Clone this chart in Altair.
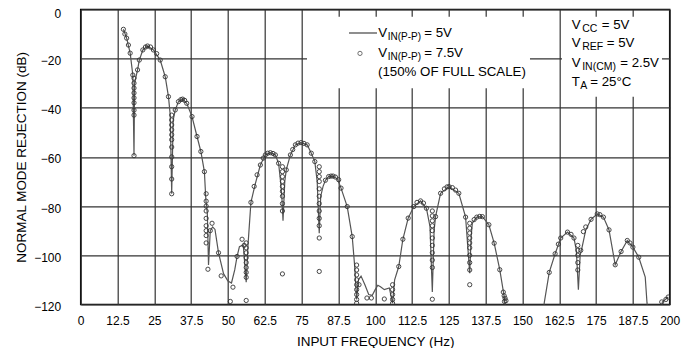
import altair as alt
import pandas as pd

# ---- data: 5V input (line) ----
line_f = [14.5, 15.6, 16.8, 17.7, 18.1, 18.3, 19.3, 19.9, 21.1, 22.7, 24.7, 27.0, 28.7, 29.8, 30.4, 30.9,
          31.4, 32.1, 33.2, 34.6, 36.0, 37.8, 39.5, 40.8, 42.0, 42.5, 43.0, 43.4,
          44.0, 44.8, 45.6, 46.8, 48.5, 50.0, 51.2, 52.3, 53.1, 53.9, 55.2, 56.2,
          56.8, 57.8, 59.2, 61.0, 62.7, 64.4, 66.1, 67.2, 67.8, 68.3, 68.7,
          69.3, 69.8, 71.2, 72.9, 74.8, 76.9, 78.3, 79.5, 80.3, 81.0,
          81.5, 82.3, 83.1, 84.2, 85.7, 87.2, 88.4, 90.5, 92.2, 93.0, 93.7,
          94.3, 95.2, 96.5, 97.8, 99.0, 100.0, 100.9, 101.8, 103.1, 104.8, 105.9,
          106.6, 108.0, 109.4, 111.2, 113.1, 115.4, 117.4, 118.6, 119.4,
          120.0, 120.5, 122.2, 125.1, 128.4, 130.7, 132.1,
          132.6, 133.0, 134.5, 136.4, 138.6, 140.4, 142.3, 143.8, 145.5,
          156.5, 157.4, 159.1, 161.1, 163.0, 165.3, 167.5, 168.3, 169.0,
          169.6, 170.3, 171.5, 173.3, 175.4, 177.5, 179.4, 181.5, 183.5, 185.6, 187.5, 189.5, 191.7, 192.3, 193.5,
          196.5, 197.5, 199.5]
line_db = [-8.1, -11.7, -17.8, -26.7, -59.5, -30, -24.6, -20.6, -16.5, -14.9, -16.5, -20.6, -27.4, -35.5, -42.9, -75,
           -45, -40.9, -37.5, -36.5, -38.2, -43.6, -51.7, -57.8, -66.0, -77.5, -83, -104,
           -90, -88.5, -89.5, -99, -107.5, -110.5, -111.3, -106, -100.5, -96.5, -95.8, -111,
           -96, -78.5, -71.4, -63.3, -59.2, -58.3, -59.2, -62.6, -69.3, -76, -86,
           -70, -65.3, -59.2, -55.1, -54.2, -55.1, -58.5, -61.9, -70, -91,
           -76, -72, -69.5, -68, -67.8, -69, -72.7, -80.2, -92.4, -104, -118,
           -110, -108.5, -112, -116, -116.3, -114, -112.2, -112.8, -114, -113.3, -119.5,
           -110, -104.6, -93.5, -84.9, -80.2, -77.9, -80.9, -88.3, -115,
           -90, -84.3, -74.8, -72.1, -74.8, -84.5, -107.3,
           -92, -86.9, -84.5, -84.3, -87.6, -95.1, -105.9, -116.8, -135,
           -135, -119.4, -107, -99.4, -93, -90.6, -93, -98, -114,
           -100, -96.5, -89.7, -85.4, -83.2, -84.5, -89.7, -103.9, -98.5, -94, -96.7, -100.8, -108.9, -119.4, -135,
           -135, -119, -117]

# ---- data: 7.5V input (circles) ----
circ_f = [14.5, 15.0, 15.6, 16.2, 16.8, 17.7,
          18.1, 18.1, 18.1, 18.1, 18.1, 18.1, 18.1, 18.1, 18.1,
          19.3, 19.9, 21.1, 22.0, 22.7, 23.7, 24.7, 25.8, 27.0, 28.7, 29.8,
          30.9, 30.9, 30.9, 30.9, 30.9, 30.9, 30.9, 30.9, 30.9, 30.9, 30.9,
          32.1, 33.2, 34.0, 34.6, 35.3, 36.0, 37.8, 39.5, 40.8, 42.0,
          42.6, 42.6, 42.6, 42.6, 42.6, 42.6, 42.6, 42.6, 42.6, 43.2,
          44.6, 44.0, 47.7, 46.8, 51.7, 50.8, 53.1, 54.8, 55.5,
          56.2, 56.2, 56.2, 56.2, 56.2, 56.2, 56.2, 56.2, 56.2,
          57.8, 58.9, 59.9, 61.0, 62.0, 62.7, 63.5, 64.4, 65.3, 66.1, 67.2,
          68.5, 68.5, 68.5, 68.5, 68.5, 68.5, 68.5, 68.5, 68.5, 68.5,
          69.8, 71.2, 72.0, 72.9, 73.8, 74.8, 75.8, 76.9, 78.3, 79.5,
          81.0, 81.0, 81.0, 81.0, 81.0, 81.0, 81.0, 81.0, 81.0, 81.0, 81.0, 81.0,
          83.1, 84.2, 85.0, 85.7, 86.5, 87.6, 88.4, 90.5, 92.2,
          93.7, 93.7, 93.7, 93.7, 93.7, 93.7, 93.7, 93.7, 93.7,
          94.5, 97.2, 98.7, 103.1,
          105.9, 105.9, 105.9, 105.9, 105.9,
          108.0, 109.4, 111.2, 113.1, 114.2, 115.4, 116.4, 117.4,
          119.4, 119.4, 119.4, 119.4, 119.4, 119.4, 119.4, 119.4, 119.4, 119.4, 119.4,
          120.5, 122.2, 123.5, 124.4, 125.1, 126.2, 127.3, 128.4, 130.7,
          132.1, 132.1, 132.1, 132.1, 132.1, 132.1, 132.1, 132.1, 132.1, 132.1,
          133.6, 134.5, 135.5, 136.4, 138.6, 140.4, 142.3, 143.5,
          143.8, 144.1, 144.4, 143.9,
          159.1, 161.1, 162.2, 163.0, 165.3, 166.5, 167.5,
          168.8, 168.8, 168.8, 168.8, 168.8, 169.8,
          170.7, 171.5, 173.3, 175.4, 176.3, 177.5, 179.4, 181.5, 183.5, 185.6, 186.5, 187.5, 189.5,
          197.3, 198.7, 199.5]
circ_db = [-8.1, -10, -11.7, -14.5, -17.8, -26.7,
           -28, -30, -32, -34, -36, -38, -41, -43, -59.5,
           -24.6, -20.6, -16.5, -15.3, -14.9, -15.3, -16.5, -18, -20.6, -27.4, -35.5,
           -43, -45, -47, -49, -51, -53, -56, -60, -64, -69, -75,
           -40.9, -37.5, -36.7, -36.5, -37, -38.2, -43.6, -51.7, -57.8, -66.0,
           -75, -78, -80, -82, -85, -88, -90, -92, -95, -105.7,
           -87, -90, -108.4, -99, -113, -118.8, -100.5, -93.5, -96,
           -95, -97, -99, -101, -103, -105, -107, -109, -118.4,
           -78.5, -72, -67.3, -63.3, -60.5, -59.2, -58.5, -58.3, -58.6, -59.2, -62.6,
           -64, -66, -68, -70, -72, -74, -76, -79, -82, -107.6,
           -65.3, -59.2, -57, -55.1, -54.4, -54.2, -54.5, -55.1, -58.5, -61.9,
           -64, -66, -68, -70, -73, -76, -79, -82, -85, -88, -93, -106.6,
           -69.5, -68, -67.8, -67.8, -68.2, -69.3, -72.7, -80.2, -92.4,
           -104, -106, -108, -110, -112, -114, -116, -118, -119.5,
           -112, -117.4, -117.4, -117.8,
           -112, -114, -116, -118, -119.5,
           -104.6, -93.5, -84.9, -80.2, -78.5, -77.9, -78.8, -80.9,
           -82, -84, -86, -88, -90, -93, -96, -99, -102, -105, -117.9,
           -84.3, -74.8, -73, -72.2, -72.1, -72.5, -73.5, -74.8, -84.5,
           -87, -89, -91, -93, -95, -97, -100, -103, -106, -112,
           -85.5, -84.5, -84.2, -84.3, -87.6, -95.1, -105.9, -115,
           -116.5, -117.5, -118.5, -118.8,
           -107, -99.4, -95.5, -93, -90.6, -91.5, -93,
           -96, -98, -100, -103, -106, -98,
           -90.4, -88.5, -85.4, -83.2, -83.5, -84.5, -89.7, -103.9, -98.5, -94, -95, -96.7, -100.8,
           -119, -118, -117]

x_ticks = [0, 12.5, 25, 37.5, 50, 62.5, 75, 87.5, 100, 112.5, 125, 137.5, 150, 162.5, 175, 187.5, 200]
y_ticks = [-120, -100, -80, -60, -40, -20, 0]

FONT = "Liberation Sans, Arial, sans-serif"
W, H = 589, 295

line_df = pd.DataFrame({"f": line_f, "db": line_db})
circ_df = pd.DataFrame({"f": circ_f, "db": circ_db})

xs = alt.Scale(domain=[0, 200], nice=False)
ys = alt.Scale(domain=[-120, 0], nice=False)

x_axis = alt.Axis(values=x_ticks, labelExpr="format(datum.value, '~g')", grid=True, ticks=False,
                  domain=False, labelOverlap=False, labelFlush=False, labelPadding=11,
                  title="INPUT FREQUENCY (Hz)", titlePadding=8)
y_axis = alt.Axis(values=y_ticks, grid=True, ticks=False, domain=False,
                  labelOverlap=False, labelFlush=False, labelPadding=20,
                  labelOffset=alt.condition("datum.value == 0", alt.value(4), alt.value(2)),
                  title="NORMAL MODE REJECTION (dB)", titlePadding=5)

line = alt.Chart(line_df).mark_line(color="#555555", strokeWidth=1.2, clip=True).encode(
    x=alt.X("f:Q", scale=xs, axis=x_axis),
    y=alt.Y("db:Q", scale=ys, axis=y_axis),
    order="index:Q",
).transform_window(index="row_number()")

pts = alt.Chart(circ_df).mark_point(shape="circle", size=18, filled=False, color="#333333",
                                     strokeWidth=1, opacity=0.9, clip=True).encode(
    x=alt.X("f:Q", scale=xs, axis=x_axis),
    y=alt.Y("db:Q", scale=ys, axis=y_axis),
)

# white boxes behind legend / conditions text (pixel positions within plot)
boxes_df = pd.DataFrame({"x0": [226.3, 481.3], "x1": [449.3, 581.3],
                         "y0": [7.3, 7.3], "y1": [78.9, 87.3]})
boxes = alt.Chart(boxes_df).mark_rect(color="white").encode(
    x=alt.X("x0:Q", scale=None), x2="x1:Q",
    y=alt.Y("y0:Q", scale=None), y2="y1:Q",
)

sample_line = alt.Chart(pd.DataFrame({"a": [268.3], "b": [296.3], "y": [23.6]})).mark_rule(
    color="#444444", strokeWidth=1.2).encode(
    x=alt.X("a:Q", scale=None), x2="b:Q", y=alt.Y("y:Q", scale=None))
sample_pt = alt.Chart(pd.DataFrame({"x": [279.3], "y": [44.0]})).mark_point(
    shape="circle", size=18, filled=False, color="#333333", strokeWidth=1).encode(
    x=alt.X("x:Q", scale=None), y=alt.Y("y:Q", scale=None))

texts = pd.DataFrame([
    ("V", 297.6, 23.6, 13.3), ("IN(P-P)", 307.0, 27.6, 10), ("= 5V", 343.5, 23.6, 13.3),
    ("V", 297.6, 44.0, 13.3), ("IN(P-P)", 307.0, 48.0, 10), ("= 7.5V", 343.5, 44.0, 13.3),
    ("(150% OF FULL SCALE)", 297.3, 62.3, 13.3),
    ("V", 491.0, 15.6, 13.3), ("CC", 501.5, 19.6, 10.5), ("= 5V", 521.0, 15.6, 13.3),
    ("V", 491.0, 33.6, 13.3), ("REF", 501.5, 37.6, 10.5), ("= 5V", 526.0, 33.6, 13.3),
    ("V", 491.0, 53.6, 13.3), ("IN(CM)", 501.5, 57.6, 10.5), ("= 2.5V", 539.5, 53.6, 13.3),
    ("T", 491.0, 72.6, 13.3), ("A", 499.5, 76.6, 10.5), ("= 25°C", 509.5, 72.6, 13.3),
], columns=["t", "x", "y", "s"])
text = alt.Chart(texts).mark_text(align="left", baseline="middle", font=FONT, color="black").encode(
    x=alt.X("x:Q", scale=None), y=alt.Y("y:Q", scale=None), text="t:N",
    size=alt.Size("s:Q", scale=None, legend=None),
)

chart = alt.layer(boxes, line, pts, sample_line, sample_pt, text).properties(
    width=W, height=H,
    autosize=alt.AutoSizeParams(type="none"),
    padding={"left": 72.7, "top": 1.4, "right": 18, "bottom": 44},
).configure_view(stroke="black", strokeWidth=1.5).configure_axis(
    gridColor="#333333", gridWidth=1.2, gridOpacity=1,
    labelFont=FONT, labelFontSize=12, labelColor="black",
    titleFont=FONT, titleFontSize=13.5, titleFontWeight="normal", titleColor="black",
)

chart.save("out.html", embed_options={"renderer": "svg", "actions": False})
